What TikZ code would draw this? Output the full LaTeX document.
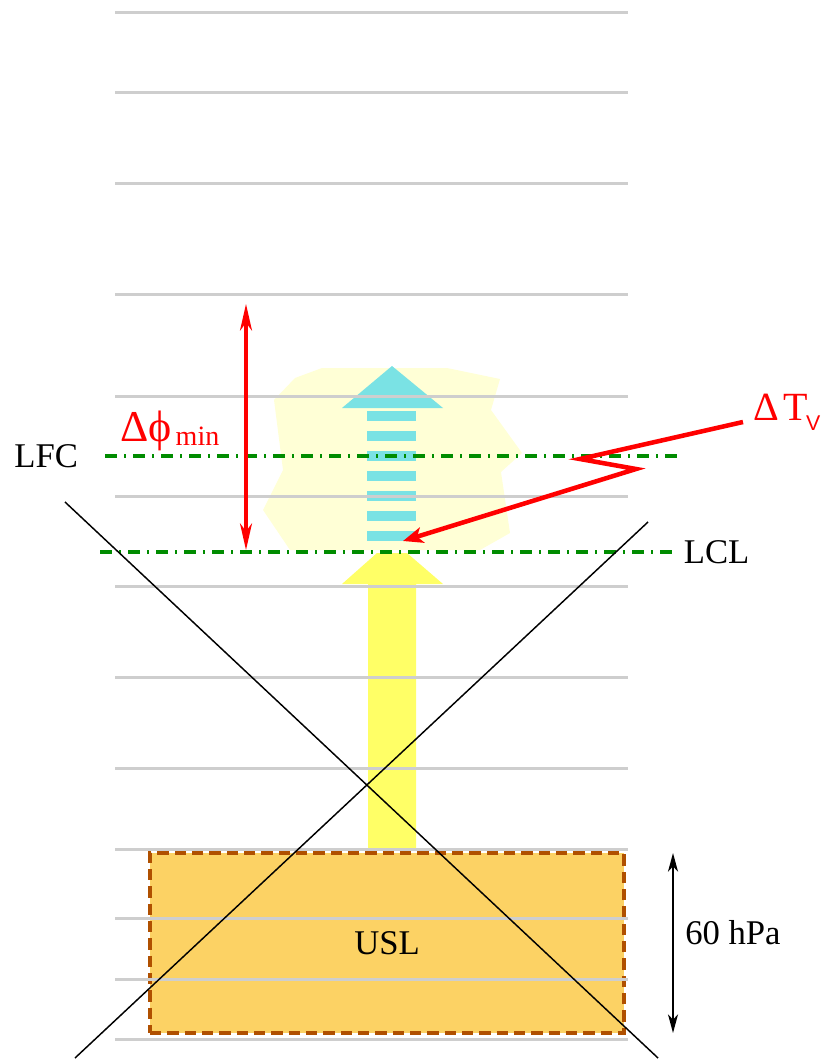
\documentclass[tikz,border=0pt]{standalone}
\usepackage{fontspec}
\setmainfont{Liberation Serif}
\newfontfamily\subsans{Liberation Sans}
\usepackage{tikz}
\usetikzlibrary{arrows.meta, positioning}
\definecolor{levelgrey}{RGB}{206,206,206}
\definecolor{cloudfill}{RGB}{255,255,214}
\definecolor{moistcyan}{RGB}{122,226,228}
\definecolor{dryyellow}{RGB}{255,255,102}
\definecolor{uslfill}{RGB}{252,210,100}
\definecolor{uslborder}{RGB}{176,80,0}
\definecolor{lvlgreen}{RGB}{0,140,0}

\begin{document}
\begin{tikzpicture}[
    x=0.75pt, y=-0.75pt,
    >=Stealth,
    level/.style={draw=levelgrey, line width=2.25pt},
    condline/.style={draw=lvlgreen, line width=2.6pt, dash pattern=on 9pt off 5.25pt on 1.5pt off 5.25pt},
    lbl/.style={font=\fontsize{26}{30}\selectfont, inner sep=0pt},
    redlbl/.style={text=red, font=\fontsize{33}{38}\selectfont, inner sep=0pt},
    uslbox/.style={draw=uslborder, fill=uslfill, line width=2.6pt, dash pattern=on 8.5pt off 4.5pt, minimum width=355.5pt, minimum height=135pt, font=\fontsize{26}{30}\selectfont},
    cross/.style={draw=black, line width=1.1pt},
    phiarrow/.style={draw=red, line width=2.4pt, {Stealth[length=20pt, width=9pt, inset=6pt]}-{Stealth[length=20pt, width=9pt, inset=6pt]}},
    tvarrow/.style={draw=red, line width=3.4pt, -{Stealth[length=15pt, width=12pt, inset=4pt]}},
    hpaarrow/.style={draw=black, line width=1.5pt, {Stealth[length=14pt, width=7.5pt, inset=4pt]}-{Stealth[length=14pt, width=7.5pt, inset=4pt]}}
]
\useasboundingbox (0,0) rectangle (822,1062);

% saturated layer
\fill[cloudfill] (322,368) -- (447,368) -- (500,379) -- (491,410) -- (522,453) -- (501,472) -- (510,533) -- (480,550) -- (290,550) -- (263,510) -- (283,470) -- (274,400) -- (295,378) -- cycle;

% moist ascent
\fill[moistcyan] (342,408) -- (392,366) -- (443,408) -- cycle;
\foreach \y in {411,431,...,531}
    \fill[moistcyan] (367,\y) rectangle (416,\y+10);

% dry ascent
\fill[dryyellow] (368,850) -- (368,584) -- (342,584) -- (377,553) -- (407,553) -- (443,584) -- (416,584) -- (416,850) -- cycle;

\node[uslbox] (usl) at (387,943) {USL};

% pressure levels
\foreach \y in {13,93,184,294,396,496,586,677,768,849,918,979,1039}
    \draw[level] (115,\y) -- (628,\y);

\coordinate (lfcW) at (105,456);
\coordinate (lfcE) at (680,456);
\coordinate (lclW) at (100,552);
\coordinate (lclE) at (673,552);
\draw[condline] (lfcW) -- (lfcE);
\draw[condline] (lclW) -- (lclE);
\node[lbl, left=20pt of lfcW] (lfc) {LFC};
\node[lbl, right=8pt of lclE] (lcl) {LCL};

% crossed out
\coordinate (xa1) at (65,502);
\coordinate (xa2) at (658,1058);
\coordinate (xb1) at (75,1058);
\coordinate (xb2) at (648,522);
\draw[cross] (xa1) -- (xa2);
\draw[cross] (xb1) -- (xb2);

\coordinate (phiTop) at (246,304);
\coordinate (phiBot) at (246,550);
\draw[phiarrow] (phiTop) -- (phiBot);
\node[redlbl, anchor=base west] (dphi) at (120,441) {Δϕ\kern3pt\raisebox{-3pt}{\fontsize{21}{24}\selectfont min}};

\node[redlbl, font=\fontsize{30}{34}\selectfont, anchor=base west] (dtv) at (753,420) {Δ\kern3pt T\kern-1pt\raisebox{-7.5pt}{\subsans\fontsize{16}{20}\selectfont V}};
\coordinate (tvStart) at (743,422);
\coordinate (zigA) at (580,459);
\coordinate (zigB) at (636,469);
\coordinate (tvTip) at (403,541);
\draw[tvarrow] (tvStart) -- (zigA) -- (zigB) -- (tvTip);

\coordinate (hpaTop) at (673,853);
\coordinate (hpaBot) at (673,1033);
\draw[hpaarrow] (hpaTop) -- (hpaBot);
\node[lbl, anchor=base west] (hpa) at (685,944) {60 hPa};

\end{tikzpicture}
\end{document}
